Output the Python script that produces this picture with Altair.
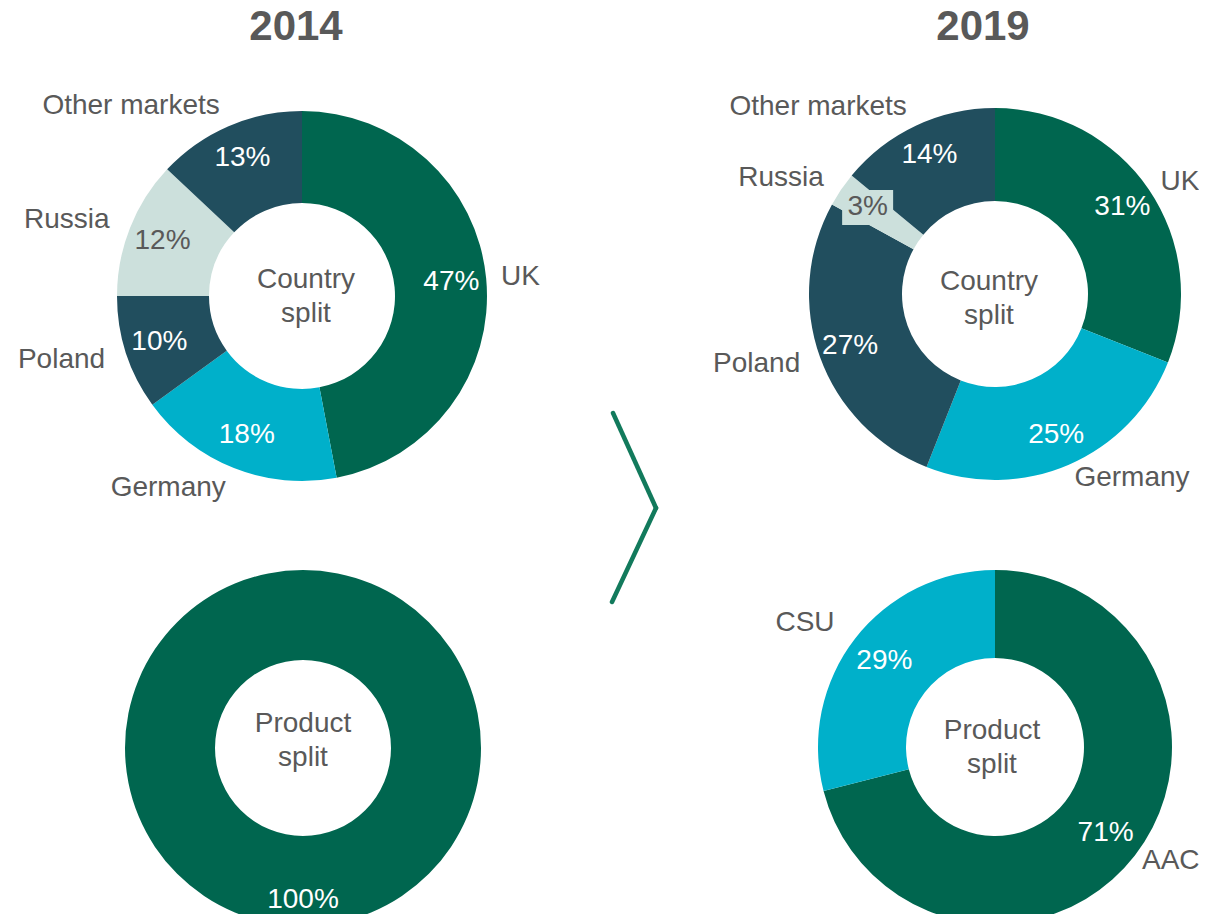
import altair as alt
import pandas as pd

# ---------------- data ----------------
countries = ["UK", "Germany", "Poland", "Russia", "Other markets"]
country_2014 = [47, 18, 10, 12, 13]
country_2019 = [31, 25, 27, 3, 14]
products_2014 = ["AAC"]
product_2014 = [100]
products_2019 = ["AAC", "CSU"]
product_2019 = [71, 29]
years = ["2014", "2019"]
title_text = ["Revenue"]
center_texts = ["Country\nsplit", "Product\nsplit"]

palette_domain = ["UK", "Germany", "Poland", "Russia", "Other markets", "AAC", "CSU"]
palette_range = ["#00664F", "#00B0CA", "#214E5E", "#CCE0DC", "#214E5E", "#00664F", "#00B0CA"]

FONT = "Liberation Sans"
GREY = "#595959"
GREEN = "#00664F"
W, H = 1191, 906
O = 8


def P(v):
    return v - O


theta_scale = alt.Scale(domain=[0, 100])
color_scale = alt.Scale(domain=palette_domain, range=palette_range)


def table(labels, values):
    df = pd.DataFrame({"label": labels, "pct": values})
    df["idx"] = range(len(df))
    df["mid"] = df["pct"].cumsum() - df["pct"] / 2
    df["pct_txt"] = df["pct"].astype(str) + "%"
    return df


def donut(labels, values, cx, cy, ri, ro, pr, show_names, center, tx, ty,
          rl_right=200, rl_left=207, box=False):
    df = table(labels, values)
    X = alt.value(P(cx))
    Y = alt.value(P(cy))
    base = alt.Chart(df)
    layers = [
        base.mark_arc(innerRadius=ri, outerRadius=ro).encode(
            theta=alt.Theta("pct:Q", stack=True, scale=theta_scale),
            order=alt.Order("idx:Q"),
            color=alt.Color("label:N", scale=color_scale, legend=None),
            x=X, y=Y,
        )
    ]
    if box:
        layers.append(
            base.transform_filter(alt.datum.label == "Russia")
            .transform_calculate(
                bx=f"{P(cx)} + {pr} * sin(datum.mid / 100 * 2 * PI)",
                by=f"{P(cy)} - {pr} * cos(datum.mid / 100 * 2 * PI)",
            )
            .transform_calculate(
                x0="datum.bx - 25.5", x1="datum.bx + 25.5",
                y0="datum.by - 17.5", y1="datum.by + 17.5",
            )
            .mark_rect(color="#CCE0DC")
            .encode(
                x=alt.X("x0:Q", scale=None, axis=None),
                x2="x1:Q",
                y=alt.Y("y0:Q", scale=None, axis=None),
                y2="y1:Q",
            )
        )
    layers.append(
        base.mark_text(radius=pr, font=FONT, fontSize=28, align="center",
                       baseline="middle").encode(
            theta=alt.Theta("mid:Q", scale=theta_scale),
            text="pct_txt:N",
            color=alt.condition(alt.datum.label == "Russia",
                                alt.value(GREY), alt.value("#FFFFFF")),
            x=X, y=Y,
        )
    )
    if show_names:
        for cond, r, al in [("datum.mid < 50", rl_right, "left"),
                            ("datum.mid >= 50", rl_left, "right")]:
            layers.append(
                base.transform_filter(cond)
                .mark_text(radius=r, font=FONT, fontSize=28, align=al,
                           baseline="middle", color=GREY)
                .encode(
                    theta=alt.Theta("mid:Q", scale=theta_scale),
                    text="label:N",
                    x=X, y=Y,
                )
            )
    layers.append(
        alt.Chart(pd.DataFrame({"t": [center]}))
        .mark_text(font=FONT, fontSize=28, align="center", baseline="middle",
                   lineBreak="\n", lineHeight=34, color=GREY)
        .encode(text="t:N", x=alt.value(P(tx)), y=alt.value(P(ty)))
    )
    return layers


layers = []
layers += donut(countries, country_2014, 302, 296, 93, 185, 150, True,
                center_texts[0], 306, 280)
layers += donut(countries, country_2019, 995, 294, 93, 186, 154, True,
                center_texts[0], 989, 282, box=True)
layers += donut(products_2014, product_2014, 303, 748, 88, 178, 152, False,
                center_texts[1], 303, 724)
layers += donut(products_2019, product_2019, 995, 747, 89, 177, 140, True,
                center_texts[1], 992, 731, rl_right=186, rl_left=203)

# headers
for yr, hx in zip(years, [296, 983]):
    layers.append(
        alt.Chart(pd.DataFrame({"t": [yr]}))
        .mark_text(font=FONT, fontSize=42, fontWeight="bold", align="center",
                   baseline="alphabetic", color=GREY)
        .encode(text="t:N", x=alt.value(P(hx)), y=alt.value(P(40)))
    )

# title (mostly above the visible area, as in the reference)
layers.append(
    alt.Chart(pd.DataFrame({"t": title_text}))
    .mark_text(font=FONT, fontSize=42, fontWeight="bold", align="center",
               baseline="alphabetic", color=GREEN)
    .encode(text="t:N", x=alt.value(P(612)), y=alt.value(P(6)))
)

# chevron
dummy = pd.DataFrame({"a": [0]})
for (x1, y1), (x2, y2) in [((613, 413), (656, 508)), ((656, 508), (612, 602))]:
    layers.append(
        alt.Chart(dummy)
        .mark_rule(color="#127A5C", strokeWidth=4.5, strokeCap="round")
        .encode(x=alt.value(P(x1)), y=alt.value(P(y1)),
                x2=alt.value(P(x2)), y2=alt.value(P(y2)))
    )

chart = (
    alt.layer(*layers)
    .properties(width=W, height=H, padding=0,
                autosize=alt.AutoSizeParams(type="none"),
                background="#FFFFFF")
    .configure_view(stroke=None)
)

chart.save("out.html", embed_options={"renderer": "svg", "actions": False})
